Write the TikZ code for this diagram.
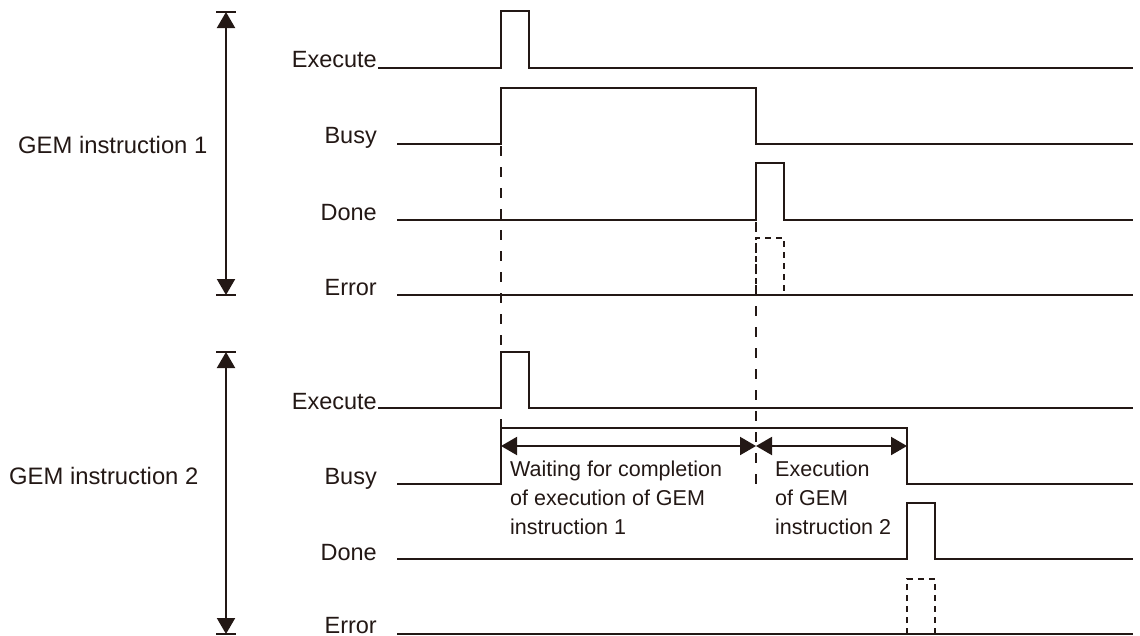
\documentclass[tikz,border=0pt]{standalone}
\usepackage{fontspec}
\setmainfont{Liberation Sans}
\usetikzlibrary{arrows.meta}
\definecolor{ink}{RGB}{35,24,21}
\begin{document}
\begin{tikzpicture}[x=1pt,y=-1pt,
  wave/.style={draw=ink,line width=2pt,line join=miter},
  dashwave/.style={draw=ink,line width=1.8pt,dash pattern=on 6pt off 5pt},
  guide/.style={draw=ink,line width=1.8pt,dash pattern=on 10pt off 11pt},
  sig/.style={anchor=base east,inner sep=0pt,text=ink,font=\fontsize{23.5}{28}\selectfont},
  grp/.style={anchor=base west,inner sep=0pt,text=ink,font=\fontsize{23.8}{28}\selectfont},
  note/.style={anchor=base west,inner sep=0pt,text=ink,align=left,font=\fontsize{21.5}{29}\selectfont},
  span/.style={draw=ink,line width=2pt,{Triangle[length=16pt,width=18pt]}-{Triangle[length=16pt,width=18pt]}},
  bar/.style={draw=ink,line width=2pt}]
\useasboundingbox (0,0) rectangle (1140,635);

% group arrows
\coordinate (g1t) at (226,12); \coordinate (g1b) at (226,295);
\coordinate (g2t) at (226,352); \coordinate (g2b) at (226,634);
\draw[span] (g1t) -- (g1b);
\draw[span] (g2t) -- (g2b);
\draw[bar] ([xshift=-10pt]g1t) -- ([xshift=10pt]g1t);
\draw[bar] ([xshift=-10pt]g1b) -- ([xshift=10pt]g1b);
\draw[bar] ([xshift=-10pt]g2t) -- ([xshift=10pt]g2t);
\draw[bar] ([xshift=-10pt]g2b) -- ([xshift=10pt]g2b);

\node[grp] (gem1) at (18,153) {GEM instruction 1};
\node[grp] (gem2) at (9,484) {GEM instruction 2};

% signal labels
\node[sig] (ex1) at (377,67) {Execute};
\node[sig] (bu1) at (377,143) {Busy};
\node[sig] (do1) at (377,220) {Done};
\node[sig] (er1) at (377,295) {Error};
\node[sig] (ex2) at (377,409) {Execute};
\node[sig] (bu2) at (377,484) {Busy};
\node[sig] (do2) at (377,560) {Done};
\node[sig] (er2) at (377,633) {Error};

% dashed guides
\draw[guide] (501,146) -- (501,428);
\draw[guide] (756,222) -- (756,484);
\draw[dashwave] (756,295) -- (756,238) -- (784,238) -- (784,295);
\draw[dashwave] (907,634) -- (907,579) -- (935,579) -- (935,640);

% waveforms group 1
\draw[wave] (378,68) -- (501,68) -- (501,11) -- (529,11) -- (529,68) -- (1133,68);
\draw[wave] (397,144) -- (501,144) -- (501,88) -- (756,88) -- (756,144) -- (1133,144);
\draw[wave] (397,220) -- (756,220) -- (756,163) -- (784,163) -- (784,220) -- (1133,220);
\draw[wave] (397,295) -- (1133,295);

% waveforms group 2
\draw[wave] (378,408) -- (501,408) -- (501,352) -- (529,352) -- (529,408) -- (1133,408);
\draw[wave] (397,484) -- (501,484) -- (501,428) -- (907,428) -- (907,484) -- (1133,484);
\draw[wave] (397,559) -- (907,559) -- (907,503) -- (935,503) -- (935,559) -- (1133,559);
\draw[wave] (397,634) -- (1133,634);

% spans
\coordinate (wA) at (501,446); \coordinate (wB) at (756,446); \coordinate (wC) at (907,446);
\draw[span] (wA) -- (wB);
\draw[span] (wB) -- (wC);

\node[note] (n1) at (510,534) {Waiting for completion\\of execution of GEM\\instruction 1};
\node[note] (n2) at (775,534) {Execution\\of GEM\\instruction 2};
\end{tikzpicture}
\end{document}
